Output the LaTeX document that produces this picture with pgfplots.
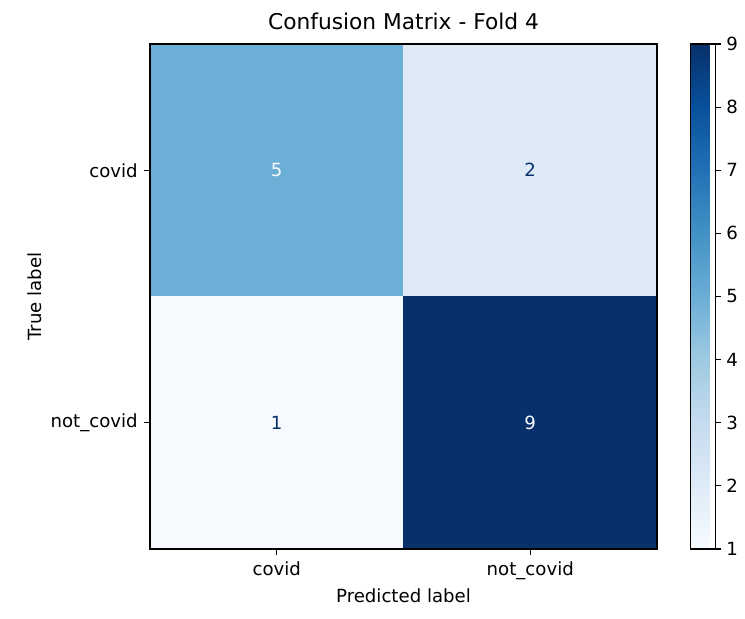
\documentclass[border=0pt]{standalone}
\usepackage{pgfplots}
\pgfplotsset{compat=1.18}
\usepackage{fontspec}
\setmainfont{DejaVu Sans}
\definecolor{txtdark}{RGB}{8,48,107}
\definecolor{txtlight}{RGB}{247,251,255}
\begin{document}
\begin{tikzpicture}
\begin{axis}[
 name=cm,
 axis on top,
 scale only axis, width=380.25pt, height=378.75pt,
 xmin=-0.5, xmax=1.5, ymin=-0.5, ymax=1.5, y dir=reverse,
 xtick={0,1}, ytick={0,1},
 xticklabels={covid,not\_covid}, yticklabels={covid,not\_covid},
 tick align=outside, xtick pos=bottom, ytick pos=left, major tick length=4.2pt,
 tick style={black, line width=0.8pt},
 axis line style={line width=0.8pt},
 title={Confusion Matrix - Fold 4},
 title style={font=\fontsize{16.3}{19}\selectfont, yshift=1pt},
 xlabel={Predicted label}, ylabel={True label},
 label style={font=\fontsize{13.6}{16}\selectfont},
 tick label style={font=\fontsize{13.6}{16}\selectfont},
 xticklabel style={yshift=-1.5pt},
 yticklabel style={xshift=-1.5pt},
 colormap={blues}{rgb255=(247,251,255) rgb255=(222,235,247) rgb255=(198,219,239) rgb255=(158,202,225) rgb255=(107,174,214) rgb255=(66,146,198) rgb255=(33,113,181) rgb255=(8,81,156) rgb255=(8,48,107)},
 point meta min=1, point meta max=9,
 colorbar,
 colorbar style={
   width=18.75pt,
   at={(parent axis.north east)}, anchor=north west, xshift=16.5pt,
   ytick={1,2,3,4,5,6,7,8,9},
   ytick pos=right,
   tick align=outside, major tick length=4.2pt,
   tick style={black, line width=0.8pt},
   axis line style={line width=0.8pt},
   yticklabel style={font=\fontsize{13.6}{16}\selectfont, xshift=0.5pt},
   /pgf/number format/assume math mode=true,
 },
]
\addplot[matrix plot*, mesh/cols=2, point meta=explicit] table[meta=c] {
x y c
0 0 5
1 0 2
0 1 1
1 1 9
};
\addplot[draw=none, nodes near coords, point meta=explicit symbolic,
  nodes near coords style={anchor=center, text=txtlight, font=\fontsize{13.6}{16}\selectfont}] table[meta=c] {
x y c
0 0 5
1 1 9
};
\addplot[draw=none, nodes near coords, point meta=explicit symbolic,
  nodes near coords style={anchor=center, text=txtdark, font=\fontsize{13.6}{16}\selectfont}] table[meta=c] {
x y c
1 0 2
0 1 1
};
\end{axis}
\pgfresetboundingbox
\path ([xshift=-112.5pt,yshift=-51.75pt]cm.south west) rectangle ([xshift=446.25pt,yshift=411.75pt]cm.south west);
\end{tikzpicture}
\end{document}
